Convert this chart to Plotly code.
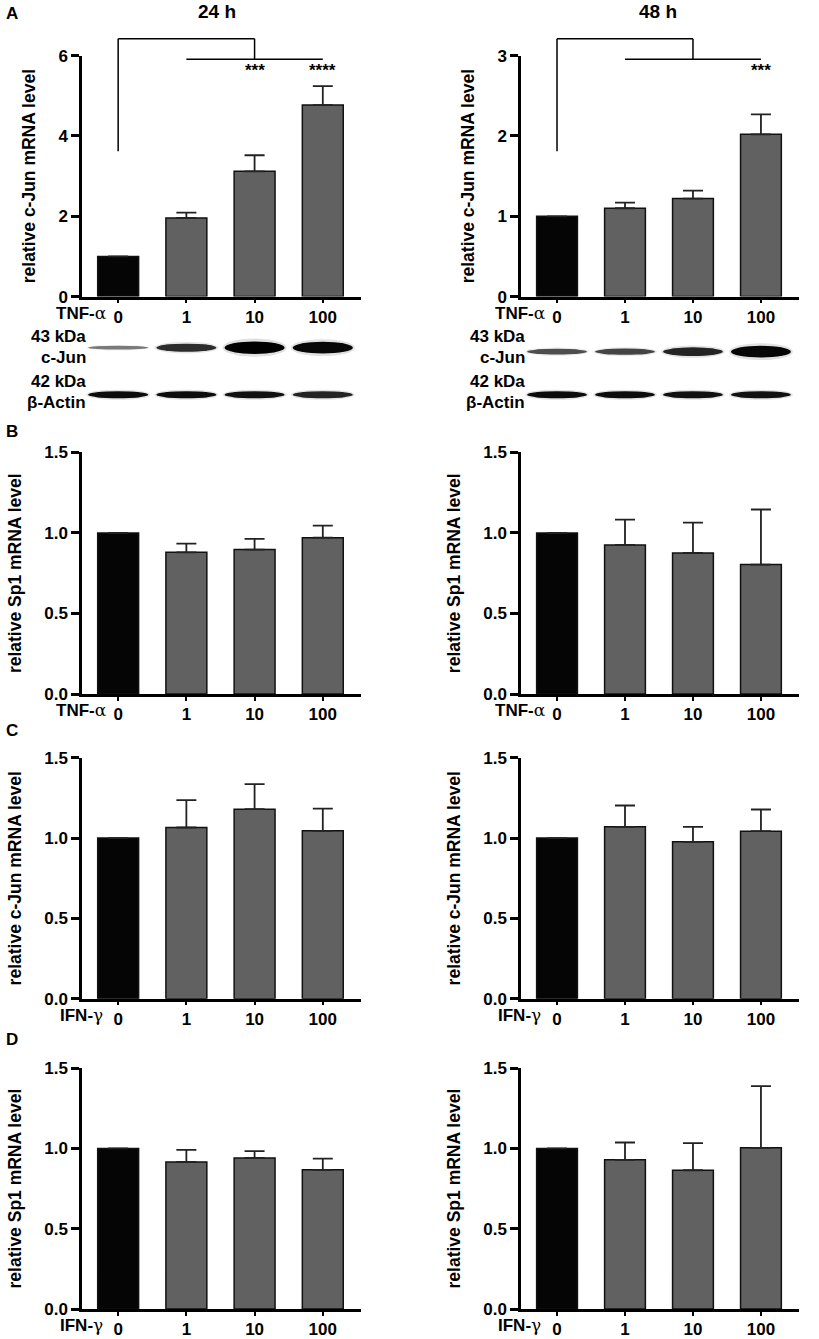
import plotly.graph_objects as go

W, H = 819, 1339

doses = ["0", "1", "10", "100"]

# A - c-Jun mRNA, TNF-alpha
cjun_tnf_24 = [1.0, 1.96, 3.12, 4.77]
cjun_tnf_24_sem = [0, 0.13, 0.40, 0.47]
cjun_tnf_48 = [1.0, 1.10, 1.22, 2.02]
cjun_tnf_48_sem = [0, 0.07, 0.10, 0.25]
stars_24 = ["", "", "***", "****"]
stars_48 = ["", "", "", "***"]

# B - Sp1 mRNA, TNF-alpha
sp1_tnf_24 = [1.0, 0.88, 0.897, 0.971]
sp1_tnf_24_sem = [0, 0.054, 0.066, 0.075]
sp1_tnf_48 = [1.0, 0.926, 0.876, 0.804]
sp1_tnf_48_sem = [0, 0.157, 0.189, 0.342]

# C - c-Jun mRNA, IFN-gamma
cjun_ifn_24 = [1.0, 1.066, 1.18, 1.045]
cjun_ifn_24_sem = [0, 0.17, 0.156, 0.138]
cjun_ifn_48 = [1.0, 1.07, 0.977, 1.043]
cjun_ifn_48_sem = [0, 0.133, 0.093, 0.135]

# D - Sp1 mRNA, IFN-gamma
sp1_ifn_24 = [1.0, 0.916, 0.941, 0.867]
sp1_ifn_24_sem = [0, 0.075, 0.042, 0.07]
sp1_ifn_48 = [1.0, 0.929, 0.864, 1.004]
sp1_ifn_48_sem = [0, 0.108, 0.169, 0.384]

# western blot band intensity (0..1), read by eye
blot_cjun_24 = [0.5, 0.82, 1.0, 0.97]
blot_actin_24 = [0.95, 0.95, 0.93, 0.85]
blot_cjun_48 = [0.68, 0.72, 0.85, 0.97]
blot_actin_48 = [0.95, 0.95, 0.93, 0.93]


def fx(p):
    return p / W


# the photographed page comes out slightly squeezed vertically, undo that here
def fy(p):
    return 1 - (p - 10.7) / 0.984 / H


FONT = "Liberation Sans"
BAR_COLORS = ["#050505", "#616161", "#616161", "#616161"]

cols = [(82, 361), (521, 799)]
rows = [(57.3, 298), (453.7, 695), (758.7, 999.3), (1068.7, 1309.3)]
xrange_ = [-0.53, 3.56]

panels = [
    (cjun_tnf_24, cjun_tnf_24_sem, "relative c-Jun mRNA level", 6, 2),
    (cjun_tnf_48, cjun_tnf_48_sem, "relative c-Jun mRNA level", 3, 1),
    (sp1_tnf_24, sp1_tnf_24_sem, "relative Sp1 mRNA level", 1.5, 0.5),
    (sp1_tnf_48, sp1_tnf_48_sem, "relative Sp1 mRNA level", 1.5, 0.5),
    (cjun_ifn_24, cjun_ifn_24_sem, "relative c-Jun mRNA level", 1.5, 0.5),
    (cjun_ifn_48, cjun_ifn_48_sem, "relative c-Jun mRNA level", 1.5, 0.5),
    (sp1_ifn_24, sp1_ifn_24_sem, "relative Sp1 mRNA level", 1.5, 0.5),
    (sp1_ifn_48, sp1_ifn_48_sem, "relative Sp1 mRNA level", 1.5, 0.5),
]

fig = go.Figure()
layout = {}
annotations = []
shapes = []

for i, (vals, sem, ytitle, ytop, dtick) in enumerate(panels):
    n = i + 1
    r, c = divmod(i, 2)
    x0, x1 = cols[c]
    y0, y1 = rows[r]
    xa = "x" if n == 1 else f"x{n}"
    ya = "y" if n == 1 else f"y{n}"
    fig.add_trace(go.Bar(
        x=doses, y=vals, xaxis=xa, yaxis=ya, width=0.6,
        marker=dict(color=BAR_COLORS, line=dict(color="#111111", width=1.5)),
        error_y=dict(type="data", symmetric=False, array=sem,
                     arrayminus=[0] * len(sem), color="#222222",
                     thickness=1.8, width=10),
        showlegend=False,
    ))
    layout["xaxis" if n == 1 else f"xaxis{n}"] = dict(
        domain=[fx(x0), fx(x1)], anchor=ya, type="category",
        categoryorder="array", categoryarray=doses, range=xrange_,
        showline=True, linecolor="black", linewidth=2.5,
        ticks="outside", ticklen=4, tickwidth=2, tickcolor="black",
        ticklabelstandoff=-1,
        tickfont=dict(size=17, color="black", family=FONT, weight="bold"),
        showgrid=False, zeroline=False, fixedrange=True,
    )
    layout["yaxis" if n == 1 else f"yaxis{n}"] = dict(
        domain=[fy(y1), fy(y0)], anchor=xa, range=[0, ytop], dtick=dtick,
        tickformat=".0f" if ytop > 2 else ".1f",
        showline=True, linecolor="black", linewidth=2.5,
        ticks="outside", ticklen=8, tickwidth=2.5, tickcolor="black",
        tickfont=dict(size=17, color="black", family=FONT, weight="bold"),
        title=dict(text=ytitle, font=dict(size=17.5, color="black", family=FONT, weight="bold"),
                   standoff=19),
        showgrid=False, zeroline=False,
    )
    stim = "TNF-" if r < 2 else "IFN-"
    greek = "α" if r < 2 else "γ"
    annotations.append(dict(
        xref=xa, yref="paper", x=-0.13 if r < 2 else -0.2, y=fy(y1 + 16),
        text=f"{stim}<span style='font-family:DejaVu Serif;font-weight:normal'>{greek}</span>",
        showarrow=False, xanchor="right", yanchor="middle",
        font=dict(size=17, color="black", family=FONT, weight="bold"),
    ))

# significance brackets and stars (panel A)
brackets = [("x", "y", 6, 3.62, 6.42, 5.91), ("x2", "y2", 3, 1.81, 3.21, 2.955)]
for xa, ya, ytop, ylow, yhigh, ybar in brackets:
    segs = [(0, ylow, 0, yhigh), (0, yhigh, 2, yhigh), (2, yhigh, 2, ybar), (1, ybar, 3, ybar)]
    for a, b, cc, d in segs:
        shapes.append(dict(type="line", xref=xa, yref=f"{ya} domain",
                           x0=a, x1=cc, y0=b / ytop, y1=d / ytop,
                           line=dict(color="black", width=1.5)))

for xa, ya, stars, ys in [("x", "y", stars_24, 5.64), ("x2", "y2", stars_48, 2.82)]:
    for k, s in enumerate(stars):
        if s:
            annotations.append(dict(xref=xa, yref=ya, x=k, y=ys, text=s, showarrow=False,
                                    yanchor="middle",
                                    font=dict(size=17, color="black", family=FONT, weight="bold")))

# western blots: every band is a soft halo, an ellipse and a flat core
blot_top, blot_bot = 325, 412
blot_h = blot_bot - blot_top
blots = [
    (9, cols[0], blot_cjun_24, blot_actin_24, 0.724, 0.184),
    (10, cols[1], blot_cjun_48, blot_actin_48, 0.678, 0.184),
]
layers = [("circle", 0.47, 1.45, 0.12), ("circle", 0.44, 1.0, 1.0), ("rect", 0.3, 0.74, 1.0)]
for n, (x0, x1), cjun, actin, row_c, row_a in blots:
    layout[f"xaxis{n}"] = dict(domain=[fx(x0), fx(x1)], anchor=f"y{n}", type="linear",
                               range=xrange_, visible=False)
    layout[f"yaxis{n}"] = dict(domain=[fy(blot_bot), fy(blot_top)], anchor=f"x{n}",
                               range=[0, 1], visible=False)
    for row, band in [(row_c, cjun), (row_a, actin)]:
        for k, inten in enumerate(band):
            thick = (2.5 + 10 * inten ** 3 if band is cjun else 7) / blot_h
            g = int(245 - 245 * inten)
            for kind, half, scale, op in layers:
                shapes.append(dict(type=kind, xref=f"x{n}", yref=f"y{n}",
                                   x0=k - half, x1=k + half,
                                   y0=row - thick * scale / 2, y1=row + thick * scale / 2,
                                   fillcolor=f"rgb({g},{g},{g})", opacity=op,
                                   line=dict(width=0)))

blot_labels = [("43 kDa", 338), ("c-Jun", 359), ("42 kDa", 383), ("β-Actin", 404)]
for xr in [88, 527]:
    for txt, yp in blot_labels:
        annotations.append(dict(xref="paper", yref="paper", x=fx(xr), y=fy(yp), text=txt,
                                showarrow=False, xanchor="right", yanchor="middle",
                                font=dict(size=17, color="black", family=FONT, weight="bold")))

for txt, yp in [("A", 15), ("B", 433), ("C", 731), ("D", 1040)]:
    annotations.append(dict(xref="paper", yref="paper", x=fx(4), y=fy(yp), text=txt,
                            showarrow=False, xanchor="left", yanchor="middle",
                            font=dict(size=17, color="black", family=FONT, weight="bold")))

for txt, xp in [("24 h", 217), ("48 h", 658)]:
    annotations.append(dict(xref="paper", yref="paper", x=fx(xp), y=fy(13), text=txt,
                            showarrow=False, xanchor="center", yanchor="middle",
                            font=dict(size=19, color="black", family=FONT, weight="bold")))

fig.update_layout(
    width=W, height=H, margin=dict(l=0, r=0, t=0, b=0),
    paper_bgcolor="white", plot_bgcolor="white",
    font=dict(family=FONT, color="black"),
    annotations=annotations, shapes=shapes, **layout,
)

fig.write_html("out.html", config={"displayModeBar": False},
               post_script="document.body.style.margin='0';")
